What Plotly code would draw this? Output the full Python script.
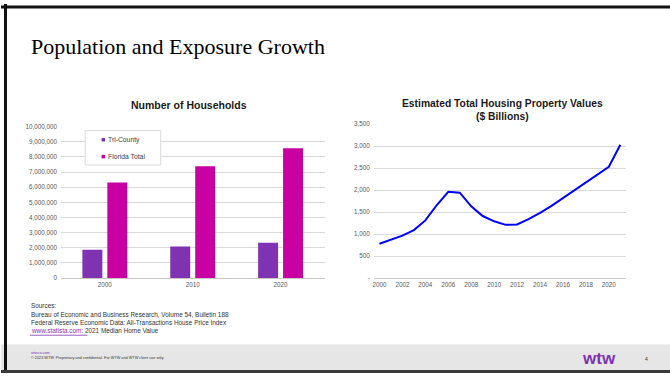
import plotly.graph_objects as go

W, H = 670, 376

# ---- data ----
hh_years = ["2000", "2010", "2020"]
tri_county = [1880000, 2090000, 2330000]
florida_total = [6310000, 7390000, 8570000]
series_names = ["Tri-County", "Florida Total"]

prop_years = list(range(2000, 2022))
prop_values = [780, 870, 965, 1090, 1310, 1660, 1960, 1940, 1630, 1410, 1290, 1210,
               1220, 1340, 1480, 1640, 1820, 2000, 2180, 2350, 2530, 3030]

hh_ticks = list(range(0, 10000001, 1000000))
prop_ticks = list(range(0, 3501, 500))
prop_ticktext = ["-"] + [f"{v:,}" for v in prop_ticks[1:]]
prop_xticks = list(range(2000, 2021, 2))

sources = ["Sources:",
           "Bureau of Economic and Business Research, Volume 54, Bulletin 188",
           "Federal Reserve Economic Data: All-Transactions House Price Index"]

# ---- styling ----
PURPLE = "#7F32B2"
MAGENTA = "#C800A2"
GRID = "#D9D9D9"
TICK = "#595959"
SANS = "Arial, Liberation Sans, sans-serif"
SERIF = "Times New Roman, Liberation Serif, serif"


def px(x):
    return x / W


def py(y):
    return 1 - y / H


fig = go.Figure()

fig.add_trace(go.Bar(x=hh_years, y=tri_county, name=series_names[0],
                     marker=dict(color=PURPLE, line=dict(width=0)),
                     xaxis="x", yaxis="y", showlegend=False))
fig.add_trace(go.Bar(x=hh_years, y=florida_total, name=series_names[1],
                     marker=dict(color=MAGENTA, line=dict(width=0)),
                     xaxis="x", yaxis="y", showlegend=False))
fig.add_trace(go.Scatter(x=prop_years, y=prop_values, mode="lines",
                         line=dict(color="#0000FF", width=2),
                         xaxis="x2", yaxis="y2", showlegend=False))

tickfont = dict(family=SANS, size=6.3, color=TICK)

fig.update_layout(
    width=W, height=H, margin=dict(l=0, r=0, t=0, b=0),
    paper_bgcolor="white", plot_bgcolor="white",
    barmode="group", bargap=0.432, bargroupgap=0.2,
    xaxis=dict(domain=[px(60), px(324)], type="category", range=[-0.5, 2.5],
               showgrid=False, showline=False, ticks="", tickfont=tickfont,
               ticklabelstandoff=2, anchor="y", zeroline=False),
    yaxis=dict(domain=[py(279.3), py(125)], range=[0, 10000000], tickvals=hh_ticks,
               tickformat=",", showgrid=True, gridcolor=GRID, gridwidth=1,
               zeroline=True, zerolinecolor="#C8C8C8", zerolinewidth=1,
               showline=False, ticks="", tickfont=tickfont, ticklabelstandoff=3,
               anchor="x"),
    xaxis2=dict(domain=[px(373.3), px(626)], range=[1999.5, 2021.5], tickvals=prop_xticks,
                showgrid=False, showline=False, ticks="", tickfont=tickfont,
                ticklabelstandoff=2, anchor="y2", zeroline=False),
    yaxis2=dict(domain=[py(279.3), py(122.3)], range=[0, 3500], tickvals=prop_ticks,
                ticktext=prop_ticktext, showgrid=True, gridcolor=GRID, gridwidth=1,
                zeroline=True, zerolinecolor="#C8C8C8", zerolinewidth=1,
                showline=False, ticks="", tickfont=tickfont, ticklabelstandoff=3,
                anchor="x2"),
)

shapes = []
# footer band
shapes.append(dict(type="rect", xref="paper", yref="paper", x0=0, x1=1,
                   y0=py(373), y1=py(347), fillcolor="#E6E6E6", line=dict(width=0),
                   layer="below"))
# slide frame
shapes.append(dict(type="rect", xref="paper", yref="paper", x0=0, x1=1,
                   y0=py(4.5), y1=py(1.5), fillcolor="#111111", line=dict(width=0)))
shapes.append(dict(type="rect", xref="paper", yref="paper", x0=px(3), x1=px(6),
                   y0=0, y1=1, fillcolor="#111111", line=dict(width=0)))
shapes.append(dict(type="rect", xref="paper", yref="paper", x0=0, x1=1,
                   y0=0, y1=py(373), fillcolor="#3A3A3A", line=dict(width=0)))
# custom legend box
shapes.append(dict(type="rect", xref="paper", yref="paper", x0=px(84.3), x1=px(160),
                   y0=py(164), y1=py(129), fillcolor="white",
                   line=dict(color=GRID, width=1), layer="above"))
leg_y = [138.3, 155.5]
leg_col = [PURPLE, MAGENTA]
for yy, cc in zip(leg_y, leg_col):
    shapes.append(dict(type="rect", xref="paper", yref="paper", x0=px(100.7), x1=px(104.2),
                       y0=py(yy + 1.8), y1=py(yy - 1.8), fillcolor=cc,
                       line=dict(width=0), layer="above"))
# link underline
shapes.append(dict(type="line", xref="paper", yref="paper", x0=px(29), x1=px(86.5),
                   y0=py(337.5), y1=py(337.5), line=dict(color=PURPLE, width=0.8)))

ann = []
ann.append(dict(text="Population and Exposure Growth", x=px(28.5), y=py(43),
                xanchor="left", yanchor="middle",
                font=dict(family=SERIF, size=22, color="#000000")))
ann.append(dict(text="<b>Number of Households</b>", x=px(188), y=py(102.5),
                xanchor="center", yanchor="middle",
                font=dict(family=SANS, size=10.5, color="#1A1A1A")))
ann.append(dict(text="<b>Estimated Total Housing Property Values<br>($ Billions)</b>",
                x=px(502), y=py(108.5), xanchor="center", yanchor="middle",
                font=dict(family=SANS, size=10.3, color="#1A1A1A")))
for name, yy in zip(series_names, leg_y):
    ann.append(dict(text=name, x=px(105.5), y=py(yy), xanchor="left", yanchor="middle",
                    font=dict(family=SANS, size=6.8, color="#404040")))
src_y = [307.5, 316, 324.5]
for t, yy in zip(sources, src_y):
    ann.append(dict(text=t, x=px(28.5), y=py(yy), xanchor="left", yanchor="middle",
                    font=dict(family=SANS, size=6.4, color="#333333")))
ann.append(dict(text="<span style='color:#7F32B2'>www.statista.com</span>: 2021 Median Home Value",
                x=px(28.5), y=py(333), xanchor="left", yanchor="middle",
                font=dict(family=SANS, size=6.4, color="#333333")))
ann.append(dict(text="wtwco.com", x=px(28.5), y=py(355.5), xanchor="left", yanchor="middle",
                font=dict(family=SANS, size=3.8, color=PURPLE)))
ann.append(dict(text="© 2023 WTW. Proprietary and confidential. For WTW and WTW client use only.",
                x=px(28.5), y=py(361), xanchor="left", yanchor="middle",
                font=dict(family=SANS, size=3.8, color="#333333")))
ann.append(dict(text="<b>wtw</b>", x=px(599), y=py(361), xanchor="center", yanchor="middle",
                font=dict(family=SANS, size=17, color=PURPLE)))
ann.append(dict(text="4", x=px(646), y=py(362), xanchor="center", yanchor="middle",
                font=dict(family=SANS, size=5, color="#333333")))
for a in ann:
    a.update(xref="paper", yref="paper", showarrow=False)

fig.update_layout(shapes=shapes, annotations=ann)

fig.write_html("out.html")
